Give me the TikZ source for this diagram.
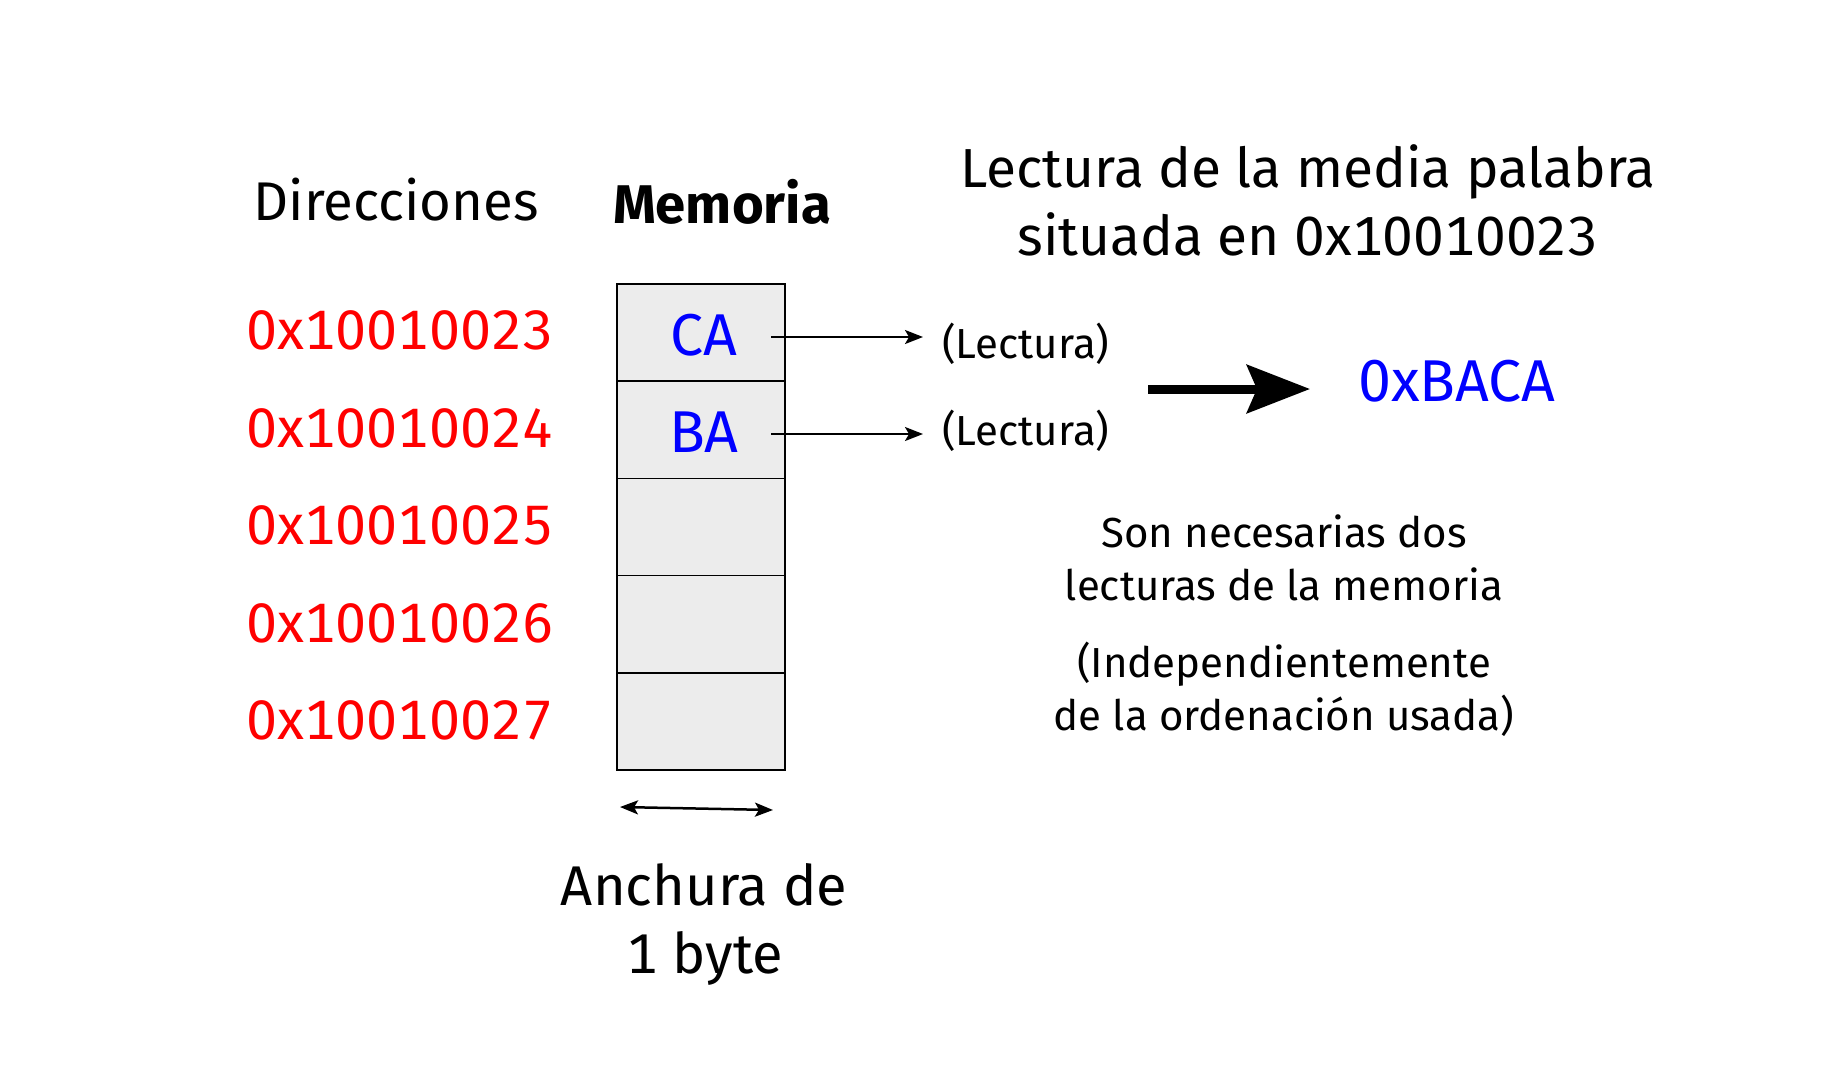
\documentclass[tikz,border=0pt]{standalone}
\usepackage{fontspec}
\setmainfont{Fira Sans}[Numbers=Monospaced]
\usetikzlibrary{arrows.meta}
\definecolor{cellgray}{RGB}{236,236,236}
\definecolor{addrred}{RGB}{255,0,0}
\definecolor{valblue}{RGB}{0,0,255}
\newcommand{\headtxt}{\fontsize{54.5}{64}\selectfont}
\newcommand{\titletxt}{\fontsize{55}{64}\selectfont}
\newcommand{\addrtxt}{\fontsize{55.5}{64}\selectfont}
\newcommand{\valtxt}{\fontsize{59}{68}\selectfont}
\newcommand{\smalltxt}{\fontsize{42}{48}\selectfont}
\newcommand{\widthtxt}{\fontsize{56}{64}\selectfont}
\begin{document}
\begin{tikzpicture}[x=1pt,y=-1pt,
  cell/.style={draw=black,line width=1.5pt,fill=cellgray,minimum width=168pt,minimum height=97.2pt,inner sep=0pt},
  lbl/.style={inner sep=0pt,anchor=base},
  addr/.style={lbl,font=\addrtxt,text=addrred},
  val/.style={lbl,font=\valtxt,text=valblue},
  smalll/.style={lbl,font=\smalltxt},
  thinarrow/.style={line width=2pt,-{Stealth[length=18pt,width=14pt,inset=4pt]}},
  thickarrow/.style={line width=9pt,-{Stealth[length=63pt,width=48pt,inset=10pt]}},
  widtharrow/.style={line width=2.5pt,{Stealth[length=18pt,width=14pt,inset=4pt]}-{Stealth[length=18pt,width=14pt,inset=4pt]}}
]
\path[use as bounding box,fill=white] (0,0) rectangle (1841,1080);

% headers
\node[lbl,font=\headtxt] (dir) at (396,220) {Direcciones};
\node[lbl,font=\headtxt\bfseries] (mem) at (722,223) {Memoria};
\node[lbl,font=\titletxt] (tit1) at (1308,187) {Lectura de la media palabra};
\node[lbl,font=\titletxt] (tit2) at (1308,255) {situada en 0x10010023};

% memory cells
\node[cell] (c1) at (701,332.6) {};
\node[cell] (c2) at (701,429.8) {};
\node[cell] (c3) at (701,527.0) {};
\node[cell] (c4) at (701,624.2) {};
\node[cell] (c5) at (701,721.4) {};

\node[val] (ca) at (704,355) {CA};
\node[val] (ba) at (704,452) {BA};

% addresses
\node[addr] (a1) at (400,349) {0x10010023};
\node[addr] (a2) at (400,447) {0x10010024};
\node[addr] (a3) at (400,544.5) {0x10010025};
\node[addr] (a4) at (400,642) {0x10010026};
\node[addr] (a5) at (400,739.5) {0x10010027};

% reads
\node[smalll,anchor=base west] (l1) at (942,358) {(Lectura)};
\node[smalll,anchor=base west] (l2) at (942,445) {(Lectura)};
\coordinate (s1) at (771,337);
\coordinate (s2) at (771,434);
\draw[thinarrow,shorten >=19pt] (s1) -- (s1 -| l1.west);
\draw[thinarrow,shorten >=19pt] (s2) -- (s2 -| l2.west);

% result
\node[val,anchor=base west] (res) at (1358,401) {0xBACA};
\coordinate (t0) at (1148,389);
\draw[thickarrow,shorten >=48pt] (t0) -- (t0 -| res.west);

% explanation
\node[smalll] (e1) at (1284,547) {Son necesarias dos};
\node[smalll] (e2) at (1284,600) {lecturas de la memoria};
\node[smalll] (e3) at (1284,677) {(Independientemente};
\node[smalll] (e4) at (1284,730) {de la ordenación usada)};

% width
\coordinate (w0) at (620,807);
\coordinate (w1) at (773,810);
\draw[widtharrow] (w0) -- (w1);
\node[lbl,font=\widthtxt] (an1) at (704,905) {Anchura de};
\node[lbl,font=\widthtxt] (an2) at (705,973) {1 byte};
\end{tikzpicture}
\end{document}
